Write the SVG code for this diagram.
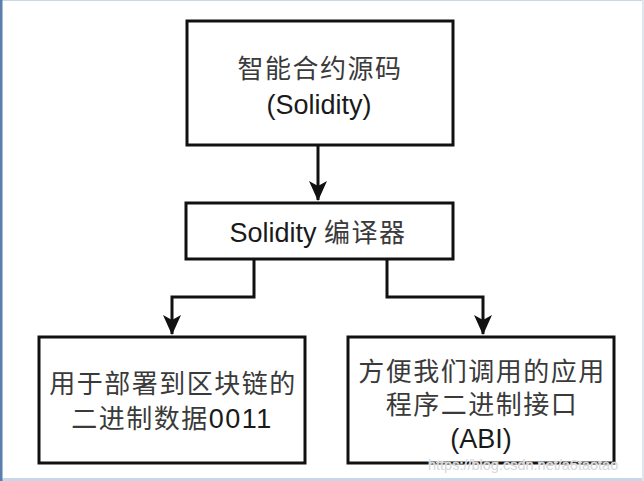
<svg xmlns="http://www.w3.org/2000/svg" width="644" height="481" viewBox="0 0 644 481">
<style>
.box{fill:#fff;stroke:#111;stroke-width:3}
.cn{font-family:"Liberation Sans","Noto Sans CJK SC",sans-serif;font-size:26px;fill:#3a3a3a;text-anchor:middle;letter-spacing:1.5px}
.en{font-family:"Liberation Sans","Noto Sans CJK SC",sans-serif;font-size:27px;fill:#1a1a1a;text-anchor:middle}
.edge{fill:none;stroke:#111;stroke-width:3}
.wm{font-family:"Liberation Sans",sans-serif;font-size:14.5px;fill:#d8d8d8;stroke:#fff;stroke-width:0.6;paint-order:stroke}
</style>
<defs>
<marker id="arr" viewBox="0 0 20 20" refX="19" refY="10" markerWidth="20" markerHeight="20" markerUnits="userSpaceOnUse" orient="auto">
<path d="M0,1 L20,10 L0,19 L5,10 Z" fill="#111"/>
</marker>
</defs>
<rect x="0" y="0" width="644" height="481" fill="#fff"/>
<rect x="0" y="0" width="644" height="1" fill="#c9d8e8"/>
<rect x="0" y="478" width="644" height="3" fill="#c9d8e8"/>
<rect x="642" y="0" width="2" height="481" fill="#dde6ef"/>
<rect x="0" y="0" width="2.5" height="481" fill="#5a7fae"/>
<g id="connectors">
<path class="edge" d="M318,146 V200" marker-end="url(#arr)"/>
<path class="edge" d="M254,259 V297 H172 V334" marker-end="url(#arr)"/>
<path class="edge" d="M387,259 V297 H483 V334" marker-end="url(#arr)"/>
</g>
<g id="source">
<rect class="box" x="187" y="21" width="266" height="124"/>
<text class="cn" x="320" y="78">智能合约源码</text>
<text class="en" x="319" y="114">(Solidity)</text>
</g>
<g id="compiler">
<rect class="box" x="186" y="203" width="267" height="56"/>
<text x="318" y="242" class="en"><tspan>Solidity </tspan><tspan class="cn" style="text-anchor:start">编译器</tspan></text>
</g>
<g id="bytecode">
<rect class="box" x="39" y="337" width="266" height="126"/>
<text class="cn" x="173" y="393">用于部署到区块链的</text>
<text class="cn" x="172" y="428">二进制数据<tspan class="en" style="font-size:27px">0011</tspan></text>
</g>
<g id="abi">
<rect class="box" x="348" y="337" width="266" height="126"/>
<text class="cn" x="482" y="381">方便我们调用的应用</text>
<text class="cn" x="482" y="414">程序二进制接口</text>
<text class="en" x="481" y="448">(ABI)</text>
</g>
<text class="wm" x="428" y="470">https://blog.csdn.net/a6taotao</text>
</svg>
